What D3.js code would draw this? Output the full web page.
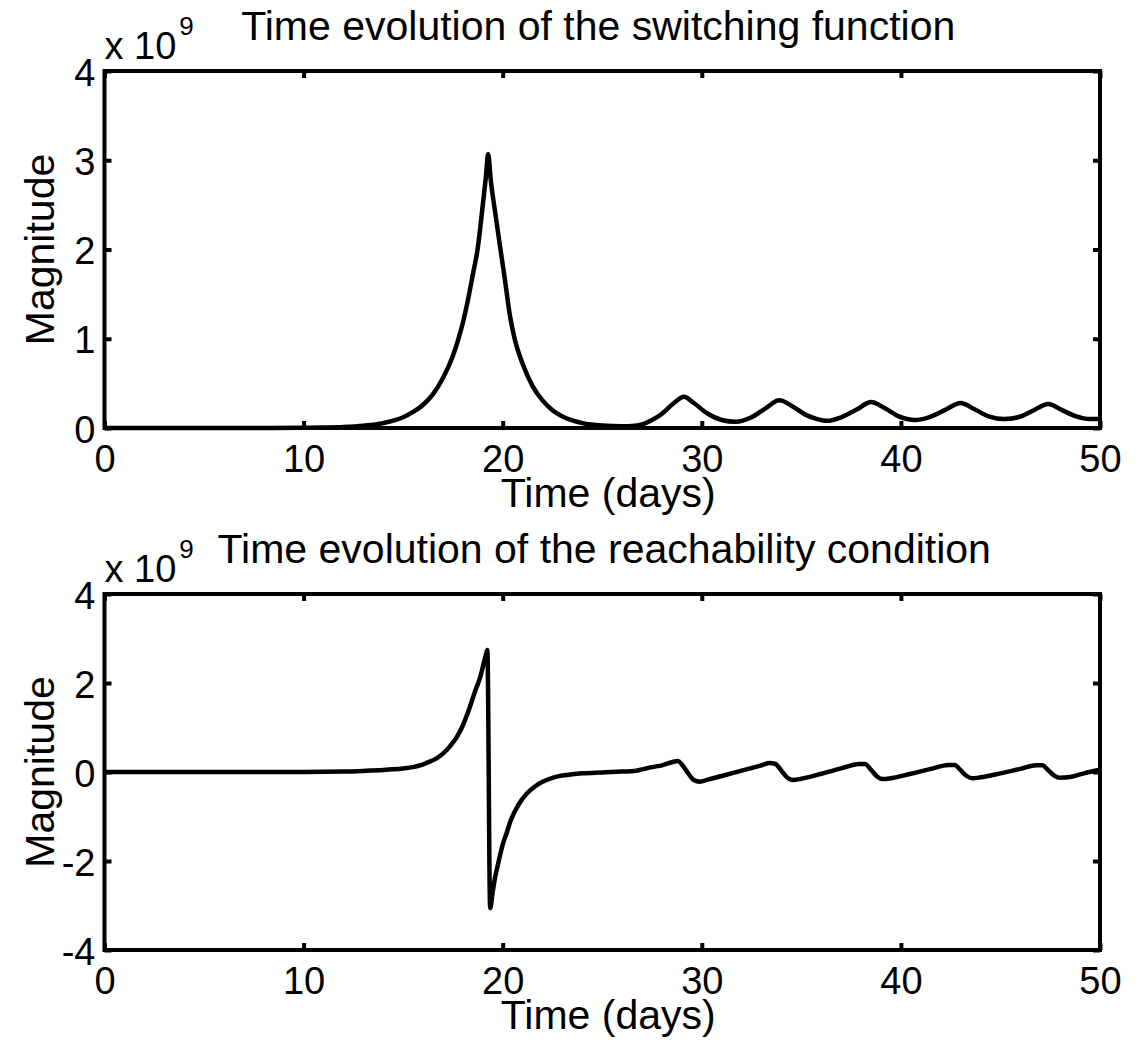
<!DOCTYPE html>
<html>
<head>
<meta charset="utf-8">
<script src="https://cdn.jsdelivr.net/npm/d3@7"></script>
<style>
  html, body { margin: 0; padding: 0; background: #ffffff; }
  svg { display: block; font-family: "Liberation Sans", Arial, sans-serif; }
</style>
</head>
<body>
<svg id="fig" width="1141" height="1047"></svg>
<script>
// Time axis (days) shared by both panels
const xTicks = [0, 10, 20, 30, 40, 50];

// Switching function magnitude (units of 1e9)
const switchTime = [0, 5, 10, 11, 12, 13, 14, 15, 15.5, 16, 16.5, 17, 17.5, 17.75, 18, 18.25, 18.5, 18.75, 19.0, 19.15, 19.27,
  19.4, 19.6, 19.87, 20.1, 20.37, 20.6, 21.0, 21.5, 22.0, 22.5, 23.0, 23.5, 24.0, 25.0, 26.0, 26.5,
  27.0, 27.5, 28.0, 28.6, 29.1, 29.6, 30.3, 31.0, 31.7, 32.5, 33.2, 33.9, 34.5, 35.2, 35.8, 36.3,
  37.0, 37.8, 38.5, 39.2, 39.9, 40.7, 41.4, 42.2, 43.0, 43.7, 44.4, 45.2, 45.9, 46.6, 47.4,
  48.1, 48.8, 49.5, 50.0];
const switchValue = [0, 0, 0.003, 0.006, 0.012, 0.026, 0.055, 0.12, 0.18, 0.26, 0.38, 0.56, 0.81, 0.98, 1.18, 1.43, 1.72, 2.02, 2.5, 2.8, 3.07,
  2.78, 2.45, 2.03, 1.68, 1.25, 1.0, 0.72, 0.47, 0.31, 0.2, 0.13, 0.085, 0.055, 0.028, 0.02, 0.022,
  0.04, 0.09, 0.16, 0.28, 0.35, 0.28, 0.16, 0.09, 0.07, 0.12, 0.22, 0.31, 0.25, 0.15, 0.1, 0.08,
  0.12, 0.21, 0.29, 0.22, 0.13, 0.09, 0.12, 0.2, 0.28, 0.21, 0.13, 0.1, 0.12, 0.19, 0.27,
  0.2, 0.13, 0.1, 0.1];

// Reachability condition (units of 1e9)
const reachTime = [0, 5, 10, 12, 13, 14, 14.5, 15, 15.5, 16, 16.2, 16.7, 17.2, 17.45, 17.7, 17.95, 18.35, 18.6, 18.87, 19.05, 19.15, 19.23,
  19.37, 19.5, 19.62, 19.75, 20.0, 20.2, 20.4, 20.8, 21.2, 21.6, 22.0, 22.5, 23.0, 23.5, 24.0, 25.0, 26.0, 26.6,
  27.0, 27.5, 28.0, 28.5, 28.8, 29.0, 29.3, 29.6, 29.9, 30.3, 31.0, 32.0, 33.0, 33.4, 33.7,
  34.0, 34.3, 34.6, 35.0, 36.0, 37.0, 37.9, 38.2, 38.5, 38.8, 39.1, 39.5, 40.5, 41.5, 42.4,
  42.7, 43.0, 43.3, 43.6, 44.0, 45.0, 46.0, 46.8, 47.1, 47.4, 47.7, 48.0, 48.4, 49.2, 50.0];
const reachValue = [0, 0, 0, 0.01, 0.025, 0.045, 0.06, 0.08, 0.11, 0.17, 0.21, 0.31, 0.5, 0.63, 0.79, 1.0, 1.46, 1.8, 2.13, 2.45, 2.62, 2.74,
  -3.06, -2.69, -2.36, -2.1, -1.63, -1.37, -1.09, -0.73, -0.49, -0.33, -0.22, -0.13, -0.08, -0.05, -0.03, -0.01, 0.01, 0.02,
  0.06, 0.11, 0.15, 0.22, 0.25, 0.17, -0.02, -0.18, -0.22, -0.17, -0.09, 0.03, 0.15, 0.2, 0.18,
  0.03, -0.13, -0.18, -0.15, -0.04, 0.08, 0.18, 0.18, 0.05, -0.1, -0.16, -0.14, -0.04, 0.07, 0.16,
  0.16, 0.04, -0.09, -0.14, -0.12, -0.03, 0.07, 0.15, 0.15, 0.04, -0.08, -0.13, -0.12, -0.03, 0.05];

const topYTicks = [0, 1, 2, 3, 4];
const bottomYTicks = [-4, -2, 0, 2, 4];

const svg = d3.select("#fig");
const left = 104.5, right = 1100;
const tickFont = 38, labelFont = 41;
const plainNumber = d => String(d);

function panel(cfg) {
  const x = d3.scaleLinear().domain([0, 50]).range([left, right]);
  const y = d3.scaleLinear().domain(cfg.yDomain).range([cfg.bottom, cfg.top]);
  const g = svg.append("g");

  // bottom axis with labels, inward ticks
  g.append("g").attr("transform", `translate(0,${cfg.bottom})`)
    .call(d3.axisBottom(x).tickValues(xTicks).tickFormat(plainNumber)
      .tickSizeInner(-7).tickSizeOuter(0).tickPadding(17));
  // top axis, ticks only
  g.append("g").attr("transform", `translate(0,${cfg.top})`)
    .call(d3.axisTop(x).tickValues(xTicks).tickSizeInner(-7).tickSizeOuter(0).tickFormat(""));
  // left axis with labels
  const yl = g.append("g").attr("transform", `translate(${left},0)`)
    .call(d3.axisLeft(y).tickValues(cfg.yTicks).tickFormat(plainNumber)
      .tickSizeInner(-7).tickSizeOuter(0).tickPadding(9));
  // right axis, ticks only
  g.append("g").attr("transform", `translate(${right},0)`)
    .call(d3.axisRight(y).tickValues(cfg.yTicks).tickSizeInner(-7).tickSizeOuter(0).tickFormat(""));

  g.selectAll(".domain").remove();
  g.selectAll(".tick line").attr("stroke", "#000").attr("stroke-width", 4);
  g.selectAll(".tick text").attr("fill", "#000").attr("font-size", tickFont)
    .attr("font-family", "Liberation Sans, Arial, sans-serif");
  yl.selectAll(".tick text").attr("dy", "0.37em");

  // frame
  g.append("rect").attr("x", left).attr("y", cfg.top)
    .attr("width", right - left).attr("height", cfg.bottom - cfg.top)
    .attr("fill", "none").attr("stroke", "#000").attr("stroke-width", 4);

  // curve
  const pts = cfg.t.map((t, i) => [t, cfg.v[i]]);
  g.append("path").datum(pts)
    .attr("fill", "none").attr("stroke", "#000").attr("stroke-width", 4.5)
    .attr("stroke-linejoin", "round")
    .attr("d", d3.line().x(d => x(d[0])).y(d => y(d[1])).curve(d3.curveMonotoneX));

  // exponent marker
  const ex = g.append("text").attr("x", left).attr("y", cfg.top - 12)
    .attr("font-size", 38).attr("fill", "#000");
  ex.append("tspan").text("x 10");
  ex.append("tspan").attr("font-size", 26).attr("dy", -24).attr("dx", 3).text("9");

  // title
  g.append("text").attr("x", (left + right) / 2 + cfg.titleShift).attr("y", cfg.top - 31)
    .attr("text-anchor", "middle").attr("font-size", labelFont).attr("fill", "#000")
    .text(cfg.title);

  // axis labels
  g.append("text").attr("x", (left + right) / 2 + 6).attr("y", cfg.bottom + 79)
    .attr("text-anchor", "middle").attr("font-size", labelFont).attr("fill", "#000")
    .text("Time (days)");
  g.append("text")
    .attr("transform", `translate(54,${(cfg.top + cfg.bottom) / 2}) rotate(-90)`)
    .attr("text-anchor", "middle").attr("font-size", labelFont).attr("fill", "#000")
    .text("Magnitude");
}

panel({
  top: 71, bottom: 428, yDomain: [0, 4], yTicks: topYTicks,
  t: switchTime, v: switchValue, titleShift: -4,
  title: "Time evolution of the switching function"
});
panel({
  top: 594, bottom: 950, yDomain: [-4, 4], yTicks: bottomYTicks,
  t: reachTime, v: reachValue, titleShift: 2,
  title: "Time evolution of the reachability condition"
});
</script>
</body>
</html>
